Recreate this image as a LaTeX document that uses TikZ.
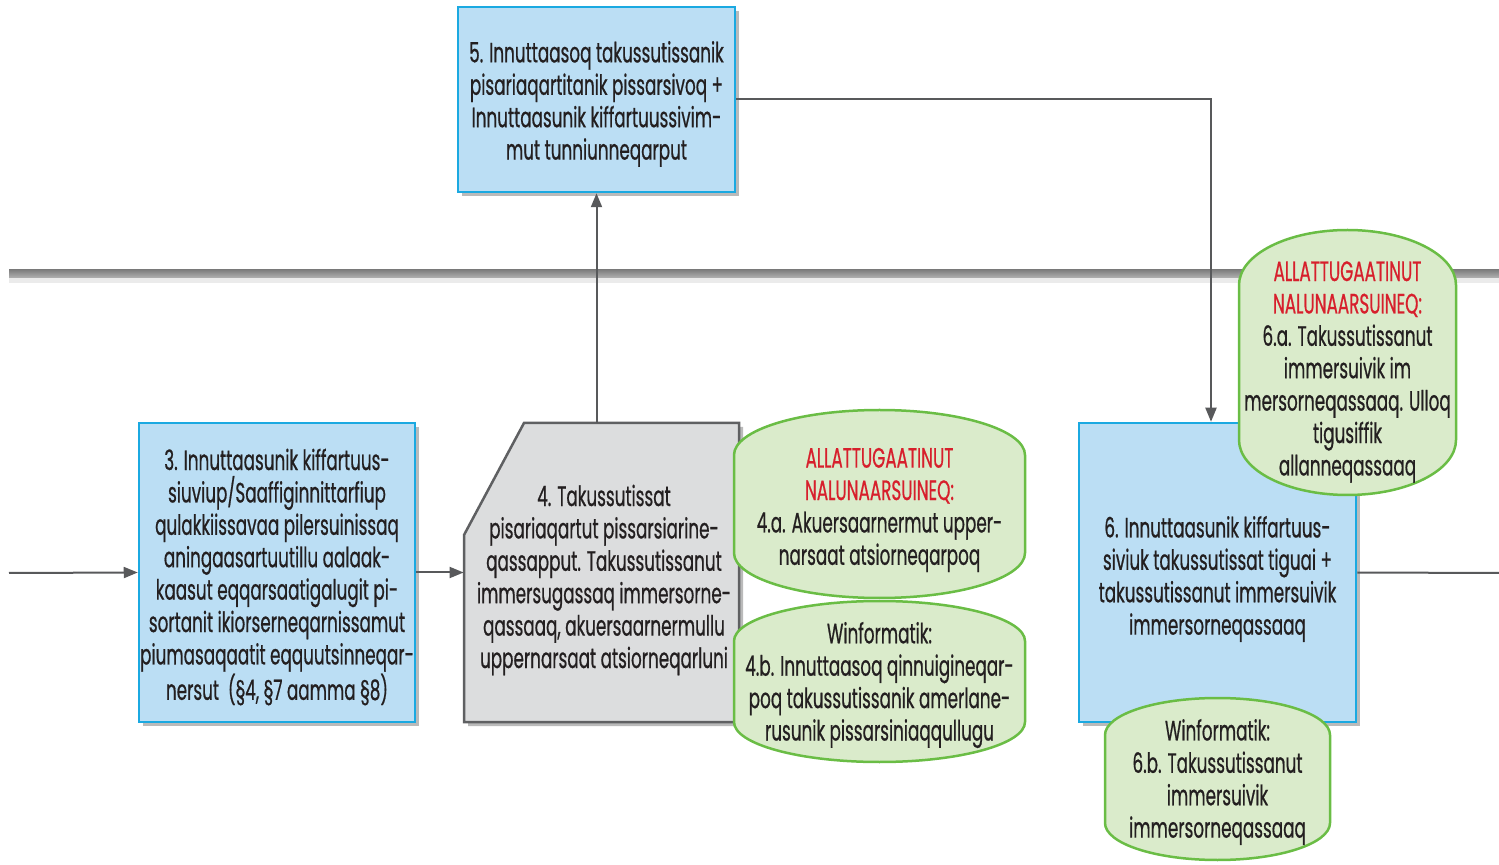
\documentclass[tikz,border=0pt]{standalone}
\usepackage{fontspec}
\setmainfont[FakeStretch=0.6,FakeBold=0.6]{Poppins}
\usetikzlibrary{arrows.meta,shadows,calc}
\definecolor{bluefill}{HTML}{BBDEF4}
\definecolor{blueline}{HTML}{1BA9E1}
\definecolor{grayfill}{HTML}{DCDDDE}
\definecolor{grayline}{HTML}{5F6062}
\definecolor{greenfill}{HTML}{DAEBCB}
\definecolor{greenline}{HTML}{6ABD45}
\definecolor{redtext}{HTML}{D71F2C}
\definecolor{darktext}{HTML}{231F20}
\definecolor{arrowgray}{HTML}{58595B}
\newcommand{\gshape}[5]{%
  \pgfmathsetmacro{\grx}{(#3-#1)/4}%
  \pgfmathsetmacro{\gry}{#5/2}%
  \draw[gshp] (#1,{#2+#5}) arc[start angle=180,end angle=0,x radius=\grx pt,y radius=\gry pt]
    -- (#3,{#4-#5}) arc[start angle=0,end angle=-180,x radius=\grx pt,y radius=\gry pt] -- cycle;}
\newcommand{\redt}[1]{\textcolor{redtext}{#1}}
\begin{document}
\begin{tikzpicture}[x=0.5pt,y=-0.5pt,
  every node/.style={font=\fontsize{14}{16.2}\selectfont, text=darktext, align=center, inner sep=0pt},
  shd/.style={drop shadow={shadow xshift=2pt,shadow yshift=-2pt,fill=black!45,opacity=.6}},
  bluebox/.style={draw=blueline, fill=bluefill, line width=1.25pt, shd, minimum width=138.5pt, minimum height=149.5pt},
  graybox/.style={draw=grayline, fill=grayfill, line width=1.25pt, shd},
  gshp/.style={draw=greenline, fill=greenfill, line width=1.25pt},
  conn/.style={draw=arrowgray, line width=1pt, -{Triangle[length=7pt,width=5.5pt]}},
  plain/.style={draw=arrowgray, line width=1pt}
]
\useasboundingbox (0,0) rectangle (1499,865);
% separator
\fill[black!8] (9,278) rectangle (1499,283);
\shade[top color=black!50, bottom color=black!30] (9,270) rectangle (1499,278);

% boxes
\node[bluebox, minimum height=92.5pt] (b5) at (596.5,99.5) {};
\node (t5) at (596.5,104) {5. Innuttaasoq takussutissanik\\pisariaqartitanik pissarsivoq +\\Innuttaasunik kiffartuussivim-\\mut tunniunneqarput};
\node[bluebox, minimum width=138pt] (b3) at (277,572.5) {};
\node (t3) at (277,577) {3. Innuttaasunik kiffartuus-\\siuviup/Saaffiginnittarfiup\\qulakkiissavaa pilersuinissaq\\aningaasartuutillu aalaak-\\kaasut eqqarsaatigalugit pi-\\sortanit ikiorserneqarnissamut\\piumasaqaatit eqquutsinneqar-\\nersut~ (§4, §7 aamma §8)};
\path[graybox] (524,423) -- (739,423) -- (739,722) -- (464,722) -- (464,535) -- cycle;
\node[minimum width=137.5pt, minimum height=149.5pt] (b4) at (601.5,572.5) {};
\node (t4) at (604,580) {4. Takussutissat\\pisariaqartut pissarsiarine-\\qassapput. Takussutissanut\\immersugassaq immersorne-\\qassaaq, akuersaarnermullu\\uppernarsaat atsiorneqarluni};
\node[bluebox] (b6) at (1217.5,572.5) {};
\node (t6) at (1217.5,579) {6. Innuttaasunik kiffartuus-\\siviuk takussutissat tiguai +\\takussutissanut immersuivik\\immersorneqassaaq};

% connectors
\coordinate (in) at (9,573);
\coordinate (out) at (1499,573);
\draw[conn] (in) -- (b3.west);
\draw[conn] (b3.east) -- (b4.west);
\draw[conn] (b5.south |- b4.north) -- (b5.south);
\draw[conn] (b5.east) -| ([xshift=-3.25pt]b6.north);
\draw[plain] (b6.east) -- (out);

% green shapes
\gshape{734}{410}{1025}{598}{45}
\node (g4a) at (879.5,510) {\redt{ALLATTUGAATINUT}\\\redt{NALUNAARSUINEQ:}\\4.a. Akuersaarnermut upper-\\narsaat atsiorneqarpoq};
\gshape{734}{601}{1025}{762}{40}
\node (g4b) at (879.5,685) {Winformatik:\\4.b. Innuttaasoq qinnuigineqar-\\poq takussutissanik amerlane-\\rusunik pissarsiniaqqullugu};
\gshape{1239}{230}{1456}{495}{55}
\node (g6a) at (1347.5,372) {\redt{ALLATTUGAATINUT}\\\redt{NALUNAARSUINEQ:}\\6.a. Takussutissanut\\immersuivik im\\mersorneqassaaq. Ulloq\\tigusiffik\\allanneqassaaq};
\gshape{1105}{698}{1330}{860}{37}
\node (g6b) at (1217.5,782) {Winformatik:\\6.b. Takussutissanut\\immersuivik\\immersorneqassaaq};
\end{tikzpicture}
\end{document}
